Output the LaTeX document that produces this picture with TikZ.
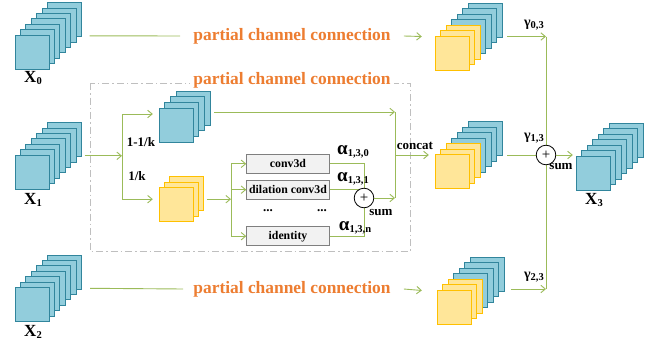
\documentclass[tikz,border=0pt]{standalone}
\usepackage{fontspec}
\setmainfont{Liberation Serif}
\usetikzlibrary{arrows.meta}
\definecolor{tealfill}{HTML}{92CDDC}
\definecolor{tealline}{HTML}{31859C}
\definecolor{yelfill}{HTML}{FFE699}
\definecolor{yelline}{HTML}{FFC000}
\definecolor{conngreen}{HTML}{9BBB59}
\definecolor{pccorange}{HTML}{ED7D31}
\definecolor{opfill}{HTML}{F2F2F2}
\definecolor{opline}{HTML}{7F7F7F}
\newcommand{\lowsub}[1]{\raisebox{-2.5pt}{\fontsize{10.5}{10.5}\selectfont #1}}
\tikzset{
  bluesq/.style={draw=tealline, fill=tealfill, line width=0.9pt},
  yelsq/.style={draw=yelline, fill=yelfill, line width=0.9pt},
  stk/.style={inner sep=0pt, minimum width=66.4pt, minimum height=66.4pt},
  conn/.style={draw=conngreen, line width=0.9pt},
  pcc/.style={text=pccorange, fill=white, inner sep=3pt, font=\bfseries\fontsize{17.4}{17.4}\selectfont},
  op/.style={draw=opline, fill=opfill, line width=0.8pt, minimum width=82.6pt, minimum height=19pt, inner sep=0pt, font=\bfseries\fontsize{11.8}{11.8}\selectfont},
  lbl/.style={inner sep=0pt, font=\bfseries\fontsize{13}{13}\selectfont},
  wt/.style={inner sep=0pt, font=\bfseries\fontsize{19}{19}\selectfont},
  gl/.style={inner sep=0pt, font=\bfseries\fontsize{14}{14}\selectfont},
  xl/.style={inner sep=0pt, font=\bfseries\fontsize{17}{17}\selectfont},
  sumc/.style={circle, draw=black, fill=white, line width=0.8pt, minimum size=19.6pt, inner sep=0pt, font=\fontsize{15}{15}\selectfont},
  frame/.style={draw=black!25, line width=0.9pt, dash pattern=on 7pt off 3pt on 1.5pt off 3pt},
  >={Straight Barb[length=4.5pt,width=7.5pt]}
}
\begin{document}
\begin{tikzpicture}[x=1pt, y=-1pt]
\useasboundingbox (0,0) rectangle (657,348);

\foreach \i in {6,...,0}
  \draw[bluesq] ({15+5.4*\i},{35-5.4*\i}) rectangle +(34,34);
\node[stk] (x0) at (48.2,35.8) {};
\node[xl] (x0l) at (33,78) {X\lowsub{0}};
\foreach \i in {6,...,0}
  \draw[bluesq] ({15+5.4*\i},{155-5.4*\i}) rectangle +(34,34);
\node[stk] (x1) at (48.2,155.8) {};
\node[xl] (x1l) at (33,200) {X\lowsub{1}};
\foreach \i in {6,...,0}
  \draw[bluesq] ({15+5.4*\i},{287.5-5.4*\i}) rectangle +(34,34);
\node[stk] (x2) at (48.2,288.3) {};
\node[xl] (x2l) at (33,332) {X\lowsub{2}};

\foreach \i in {3,...,0}
  \draw[bluesq] ({159+5.67*\i},{108-5.67*\i}) rectangle +(34,34);
\node[stk, minimum width=51pt, minimum height=51pt] (up) at (184.5,116.5) {};
\foreach \i in {2,...,0}
  \draw[yelsq] ({159+5.3*\i},{187.5-5.3*\i}) rectangle +(34,34);
\node[stk, minimum width=44.6pt, minimum height=44.6pt] (yl) at (181.3,199.2) {};

\foreach \i in {6,...,3}
  \draw[bluesq] ({435+5.5*\i},{36-5.5*\i}) rectangle +(34,34);
\foreach \i in {2,...,0}
  \draw[yelsq] ({435+5.5*\i},{36-5.5*\i}) rectangle +(34,34);
\node[stk, minimum width=67pt, minimum height=67pt] (r0) at (468.5,36.5) {};
\foreach \i in {6,...,3}
  \draw[bluesq] ({435+5.5*\i},{154.5-5.5*\i}) rectangle +(34,34);
\foreach \i in {2,...,0}
  \draw[yelsq] ({435+5.5*\i},{154.5-5.5*\i}) rectangle +(34,34);
\node[stk, minimum width=67pt, minimum height=67pt] (r1) at (468.5,155) {};
\foreach \i in {6,...,3}
  \draw[bluesq] ({437+5.5*\i},{290-5.5*\i}) rectangle +(34,34);
\foreach \i in {2,...,0}
  \draw[yelsq] ({437+5.5*\i},{290-5.5*\i}) rectangle +(34,34);
\node[stk, minimum width=67pt, minimum height=67pt] (r2) at (470.5,290.5) {};

\foreach \i in {6,...,0}
  \draw[bluesq] ({576+5.5*\i},{156-5.5*\i}) rectangle +(34,34);
\node[stk, minimum width=67pt, minimum height=67pt] (x3) at (609.5,156.5) {};
\node[xl] (x3l) at (594,200) {X\lowsub{3}};

\draw[frame] (90,83) rectangle (410,251);

\node[pcc] (pc0) at (292,36) {partial channel connection};
\node[pcc] (pc1) at (292,80) {partial channel connection};
\node[pcc] (pc2) at (292,289) {partial channel connection};

\draw[conn] ([xshift=8pt]x0.east) -- ([xshift=-10pt]pc0.west);
\draw[conn,->] ([xshift=10pt]pc0.east) -- ([xshift=-13pt]r0.west);
\draw[conn] ([xshift=8.6pt]x2.east) -- ([xshift=-7pt]pc2.west);
\draw[conn,->] ([xshift=10pt]pc2.east) -- ([xshift=-15pt]r2.west);

\coordinate (br1) at (122,155.8);
\draw[conn,->] ([xshift=3pt]x1.east) -- (br1);
\draw[conn,->] (br1) |- ([xshift=-6pt,yshift=2.5pt]up.west);
\draw[conn,->] (br1) |- ([xshift=-6pt]yl.west);
\node[lbl] (k1) at (141,142) {1-1/k};
\node[lbl] (k2) at (137,176) {1/k};

\node[op] (conv) at (288,163.8) {conv3d};
\node[op] (dil) at (288,189.7) {dilation conv3d};
\node[op] (iden) at (288,236.2) {identity};
\node[lbl] (d1) at (268,211) {...};
\node[lbl] (d2) at (322,211) {...};

\coordinate (br2) at (231,199.2);
\draw[conn,->] ([xshift=3pt]yl.east) -- (br2);
\draw[conn,->] (br2) |- (conv.west);
\draw[conn,->] (br2) |- (dil.west);
\draw[conn,->] (br2) |- (iden.west);

\coordinate (s1) at (364,198);
\coordinate (cat) at (395,155);
\draw[conn] (conv.east) -| (s1);
\draw[conn] (dil.east) -- (dil.east -| s1);
\draw[conn] (iden.east) -| (s1);
\node[sumc] (sum1) at (s1) {+};
\node[wt] (a0) at (353,152) {α\lowsub{1,3,0}};
\node[wt] (a1) at (353,179) {α\lowsub{1,3,1}};
\node[wt] (a2) at (355,228) {α\lowsub{1,3,n}};
\node[lbl] (sl1) at (381,213) {sum};

\draw[conn,->] ([xshift=4pt,yshift=4.5pt]up.east) -- ([yshift=4.5pt]up.east -| cat);
\draw[conn] ([yshift=4.5pt]up.east -| cat) -- (cat |- sum1);
\draw[conn,->] (sum1.east) -- (sum1 -| cat);
\draw[conn,->] (cat) -- ([xshift=-6pt]r1.west);
\node[lbl] (catl) at (415,146) {concat};

\coordinate (g0) at (546,36.5);
\coordinate (s2) at (546,155);
\coordinate (g2) at (546,289);
\draw[conn,->] ([xshift=5pt]r0.east) -- (g0);
\draw[conn,->] ([xshift=7pt]r2.east |- g2) -- (g2);
\draw[conn] (g0) -- (g2);
\draw[conn] ([xshift=5pt]r1.east) -- (s2);
\node[sumc] (sum2) at (s2) {+};
\draw[conn,->] (sum2.east) -- ([xshift=-3pt]sum2.east -| x3.west);
\node[gl] (g0l) at (534,25) {γ\lowsub{0,3}};
\node[gl] (g1l) at (534,138) {γ\lowsub{1,3}};
\node[gl] (g2l) at (534,277) {γ\lowsub{2,3}};
\node[lbl] (sl2) at (561,167) {sum};
\end{tikzpicture}
\end{document}
